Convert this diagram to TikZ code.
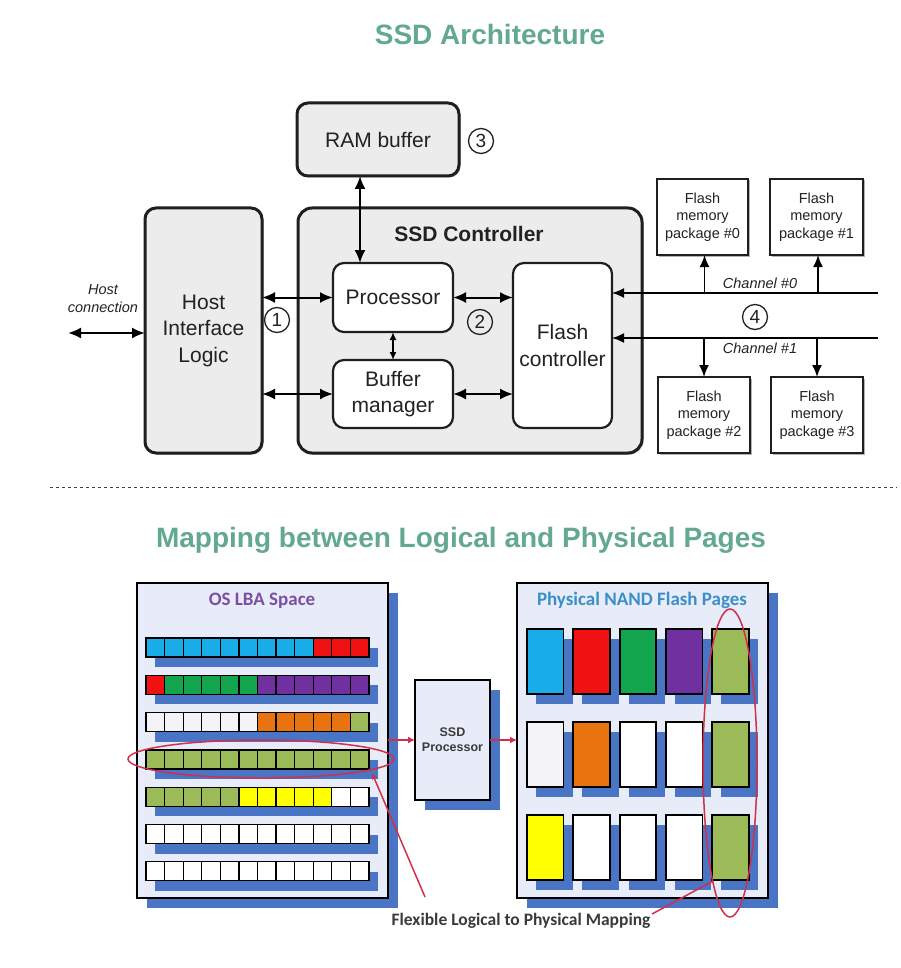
\documentclass[tikz,border=0pt]{standalone}
\usepackage{fontspec}
\setmainfont{Liberation Sans}
\newfontfamily\crl{Carlito}
\usetikzlibrary{arrows.meta,shadows,shapes.geometric,calc}
\definecolor{ttl}{HTML}{62A892}
\definecolor{boxgray}{HTML}{ECECEC}
\definecolor{txt}{HTML}{222222}
\definecolor{darktext}{HTML}{3A3A3A}
\definecolor{cy}{HTML}{18ADE8}
\definecolor{rd}{HTML}{F01212}
\definecolor{gn}{HTML}{12A54E}
\definecolor{pu}{HTML}{7030A0}
\definecolor{ol}{HTML}{9BBB59}
\definecolor{orng}{HTML}{E8730F}
\definecolor{yl}{HTML}{FFFF00}
\definecolor{wh}{HTML}{F4F4F8}
\definecolor{shblue}{HTML}{4A74C4}
\definecolor{panel}{HTML}{E8ECF8}
\definecolor{mred}{HTML}{D0304A}
\definecolor{lbapurple}{HTML}{7B4FA3}
\definecolor{nandblue}{HTML}{3B8FC9}
\begin{document}
\begin{tikzpicture}[x=1pt,y=-1pt,
  every node/.style={inner sep=0pt,outer sep=0pt},
  softsh/.style={drop shadow={shadow xshift=1.5pt,shadow yshift=-1.5pt,opacity=0.3,fill=black}},
  blsh/.style={drop shadow={shadow xshift=10pt,shadow yshift=-10pt,fill=shblue,opacity=1}},
  bigbox/.style={draw=black!88,line width=3pt,fill=boxgray,rounded corners=11pt,softsh,
     align=center,font=\fontsize{21}{26.5}\selectfont,text=txt},
  smallbox/.style={draw=black!88,line width=2.2pt,fill=white,rounded corners=11pt,
     align=center,font=\fontsize{21}{26.5}\selectfont,text=txt},
  pkg/.style={draw=black!88,line width=2pt,fill=white,minimum width=92pt,minimum height=76pt,
     align=center,font=\fontsize{14.5}{17.5}\selectfont,text=txt,softsh},
  arr/.style={line width=2pt,arrows={Latex[length=13pt,width=11pt]-Latex[length=13pt,width=11pt]}},
  onearr/.style={line width=1.7pt,arrows={-Latex[length=12pt,width=10pt]}},
  num/.style={circle,draw=txt,line width=1.3pt,minimum size=25pt,font=\fontsize{19}{19}\selectfont,text=txt},
  chl/.style={font=\itshape\fontsize{14.5}{18}\selectfont,text=txt,align=center},
  redline/.style={draw=mred,line width=1.5pt},
  blt/.style={font=\crl\bfseries\fontsize{19}{19}\selectfont}
]
\useasboundingbox (0,0) rectangle (901,968);

% ---------- titles ----------
\node[font=\bfseries\fontsize{28}{28}\selectfont,text=ttl,anchor=base] (title1) at (490,45) {SSD Architecture};
\node[font=\bfseries\fontsize{28}{28}\selectfont,text=ttl,anchor=base] (title2) at (461,547) {Mapping between Logical and Physical Pages};

% ---------- top diagram ----------
\node[bigbox,minimum width=162pt,minimum height=73pt] (ram) at (378,139.5) {RAM buffer};
\node[bigbox,minimum width=117pt,minimum height=245pt] (host) at (203.5,330.5) {Host\\Interface\\Logic};
\node[bigbox,rounded corners=14pt,minimum width=344pt,minimum height=245pt] (ctrl) at (470,330.5) {};
\node[font=\bfseries\fontsize{21}{21}\selectfont,text=txt] (ctrltitle) at (469,234) {SSD Controller};
\node[smallbox,minimum width=120pt,minimum height=69pt] (proc) at (393,297.5) {Processor};
\node[smallbox,minimum width=120pt,minimum height=68pt] (buf) at (393,394) {Buffer\\manager};
\node[smallbox,minimum width=99pt,minimum height=165pt] (flash) at (562.5,345.5) {Flash\\controller};

\node[pkg,minimum width=91pt] (pk0) at (702.5,217) {Flash\\memory\\package \#0};
\node[pkg,minimum width=93pt] (pk1) at (816.5,217) {Flash\\memory\\package \#1};
\node[pkg,minimum width=92pt] (pk2) at (704,415) {Flash\\memory\\package \#2};
\node[pkg,minimum width=92pt] (pk3) at (817,415) {Flash\\memory\\package \#3};

% connectors
\coordinate (hc) at (68,333);
\draw[arr] (hc) -- (host.west |- hc);
\node[chl] (hclbl) at (103,299) {Host\\connection};
\draw[arr] (host.east |- proc.west) -- (proc.west);
\draw[arr] (host.east |- buf.west) -- (buf.west);
\draw[arr] ([xshift=-18pt]ram.south) -- ([xshift=-33pt]proc.north);
\draw[line width=1.6pt,arrows={Latex[length=8pt,width=7pt]-Latex[length=8pt,width=7pt]}] (proc.south) -- (buf.north);
\draw[arr] (proc.east) -- (flash.west |- proc.east);
\draw[arr] (buf.east) -- (flash.west |- buf.east);

\coordinate (ch0) at (878,293);
\coordinate (ch1) at (878,338);
\draw[onearr] (ch0) -- (flash.east |- ch0);
\draw[onearr] (ch1) -- (flash.east |- ch1);
\draw[onearr] ([xshift=2pt]pk0.south |- ch0) -- ([xshift=2pt]pk0.south);
\draw[onearr] ([xshift=1.5pt]pk1.south |- ch0) -- ([xshift=1.5pt]pk1.south);
\draw[onearr] (pk2.north |- ch1) -- (pk2.north);
\draw[onearr] (pk3.north |- ch1) -- (pk3.north);
\node[chl] (c0lbl) at (760,283) {Channel \#0};
\node[chl] (c1lbl) at (760,348) {Channel \#1};

\node[num] (n1) at (277,320) {1};
\node[num] (n2) at (480,322) {2};
\node[num] (n3) at (481,141) {3};
\node[num] (n4) at (755,317) {4};

% dashed separator
\coordinate (dl) at (50,487);
\coordinate (dr) at (897,487);
\draw[dash pattern=on 3pt off 3pt,line width=1pt,black!75] (dl) -- (dr);

% ---------- bottom diagram ----------
\node[draw=black,line width=1.3pt,fill=panel,blsh,minimum width=251pt,minimum height=315pt] (osp) at (262.5,740.5) {};
\node[blt,text=lbapurple] (ostitle) at (262,601) {OS LBA Space};

\foreach \rowc [count=\r from 0] in {
  {cy,cy,cy,cy,cy,cy,cy,cy,cy,rd,rd,rd},
  {rd,gn,gn,gn,gn,gn,pu,pu,pu,pu,pu,pu},
  {wh,wh,wh,wh,wh,wh,orng,orng,orng,orng,orng,ol},
  {ol,ol,ol,ol,ol,ol,ol,ol,ol,ol,ol,ol},
  {ol,ol,ol,ol,ol,yl,yl,yl,yl,yl,white,white},
  {white,white,white,white,white,white,white,white,white,white,white,white},
  {white,white,white,white,white,white,white,white,white,white,white,white}}{
  \pgfmathsetmacro\yy{638+37.3*\r}
  \fill[shblue] (155,\yy+10) rectangle (378,\yy+29);
  \foreach \c [count=\i from 0] in \rowc {
    \draw[black,line width=1.2pt,fill=\c] (146+18.58*\i,\yy) rectangle ++(18.58,19);
  }
}

\node[draw=black,line width=1.3pt,fill=panel,blsh,minimum width=75pt,minimum height=120pt,
  align=center,font=\bfseries\fontsize{12.5}{15}\selectfont,text=darktext] (ssdp) at (452.5,740) {SSD\\Processor};

\node[draw=black,line width=1.3pt,fill=panel,blsh,minimum width=251pt,minimum height=315pt] (nandp) at (642.5,740.5) {};
\node[blt,text=nandblue] (nandtitle) at (642,600) {Physical NAND Flash Pages};

\foreach \rowc [count=\r from 0] in {
  {cy,rd,gn,pu,ol},
  {wh,orng,white,white,ol},
  {yl,white,white,white,ol}}{
  \foreach \c [count=\i from 0] in \rowc {
    \pgfmathsetmacro\xx{527+46.3*\i}
    \pgfmathsetmacro\yy{629+93*\r}
    \fill[shblue] (\xx+9,\yy+10) rectangle ++(36.5,65);
    \draw[black,line width=1.8pt,fill=\c] (\xx,\yy) rectangle ++(36.5,65);
  }
}

\draw[mred,line width=1.8pt,-{Latex[length=7pt,width=7pt]}] (osp.east |- ssdp.west) -- (ssdp.west);
\draw[mred,line width=1.8pt,-{Latex[length=7pt,width=7pt]}] (ssdp.east) -- (nandp.west |- ssdp.east);

\node[ellipse,redline,minimum width=266pt,minimum height=38pt] (e1) at (261,759) {};
\node[ellipse,redline,minimum width=54pt,minimum height=308pt] (e2) at (730,763) {};

\node[font=\crl\bfseries\fontsize{17.5}{17.5}\selectfont,text=darktext] (maplbl) at (521,921) {Flexible Logical to Physical Mapping};
\coordinate (m1) at (425,897);
\coordinate (tp1) at (372,773);
\coordinate (m2) at (652,914);
\coordinate (tp2) at (713,881);
\draw[redline,-{Stealth[length=7pt,width=5pt]}] (m1) -- (tp1);
\draw[redline] (m2) -- (tp2);
\end{tikzpicture}
\end{document}
